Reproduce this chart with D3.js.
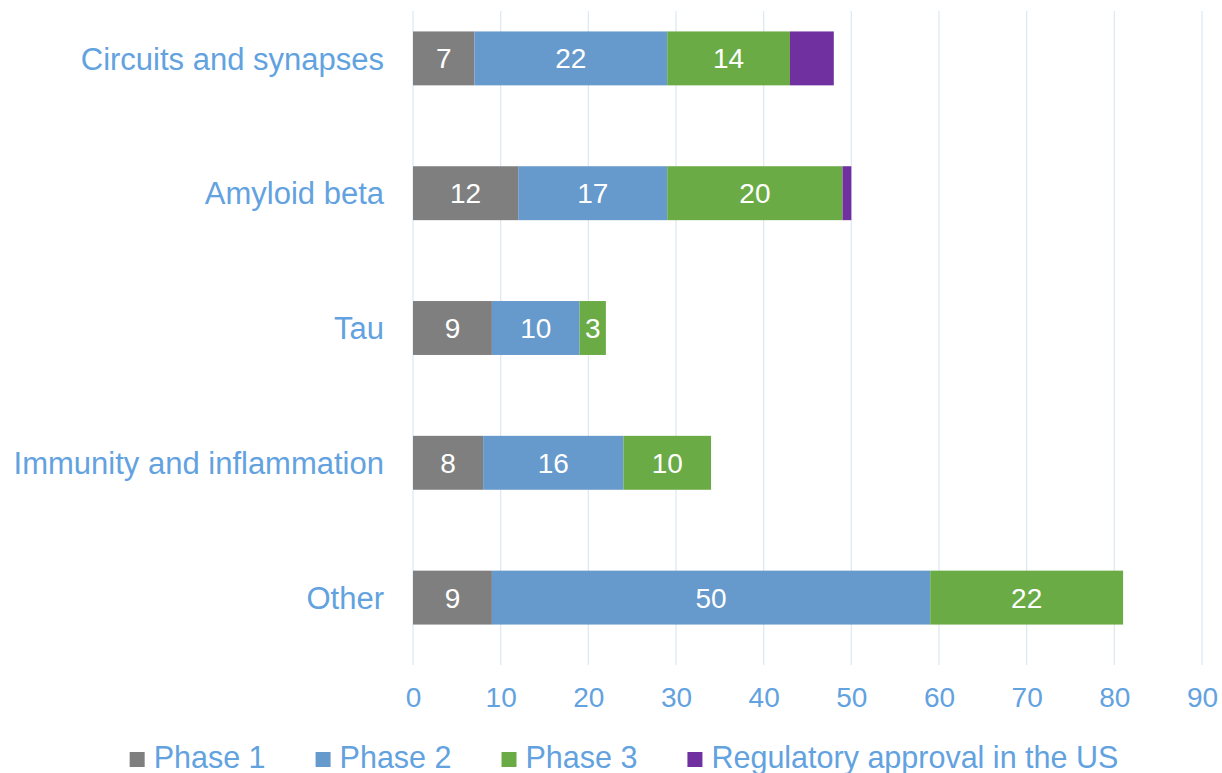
<!DOCTYPE html>
<meta charset="utf-8">
<head>
  <meta charset="utf-8">
  <title>Pipeline by target</title>
  <style>
    body { margin: 0; background: #fff; }
    text { font-family: "Liberation Sans", Arial, sans-serif; }
  </style>
</head>
<body>
<script src="https://cdn.jsdelivr.net/npm/d3@7/dist/d3.min.js"></script>
<script>

// data
var categories = ["Circuits and synapses", "Amyloid beta", "Tau", "Immunity and inflammation", "Other"];
var phase1   = [7, 12, 9, 8, 9];
var phase2   = [22, 17, 10, 16, 50];
var phase3   = [14, 20, 3, 10, 22];
var approval = [5, 1, 0, 0, 0];
var seriesNames = ["Phase 1", "Phase 2", "Phase 3", "Regulatory approval in the US"];
var xTicks = [0, 10, 20, 30, 40, 50, 60, 70, 80, 90];

var colors = ["#7f7f7f", "#6699cc", "#6aab45", "#7030a0"];
var textColor = "#62a2df";

var width = 1222, height = 773;
var plot = {left: 413, right: 1202, top: 11, bottom: 665};

var svg = d3.select("body").append("svg")
    .attr("width", width)
    .attr("height", height);

// build rows for the stack
var keys = ["p1", "p2", "p3", "ap"];
var rows = categories.map(function(c, i) {
  return {cat: c, p1: phase1[i], p2: phase2[i], p3: phase3[i], ap: approval[i]};
});
var stacked = d3.stack().keys(keys)(rows);

var x = d3.scaleLinear()
    .domain([0, 90])
    .range([plot.left, plot.right]);

var y = d3.scaleBand()
    .domain(categories)
    .range([plot.top - 20, plot.bottom])
    .paddingInner(0.6)
    .paddingOuter(0.3);

// gridlines
svg.append("g")
  .selectAll("line")
  .data(xTicks)
  .enter().append("line")
    .attr("x1", function(d) { return x(d); })
    .attr("x2", function(d) { return x(d); })
    .attr("y1", plot.top)
    .attr("y2", plot.bottom)
    .attr("stroke", "#dfe9f5")
    .attr("stroke-width", 1.3);

// bars
var layer = svg.append("g").selectAll("g")
    .data(stacked)
    .enter().append("g")
    .attr("fill", function(d, i) { return colors[i]; });

layer.selectAll("rect")
    .data(function(d) { return d; })
    .enter().append("rect")
    .attr("x", function(d) { return x(d[0]); })
    .attr("width", function(d) { return x(d[1]) - x(d[0]); })
    .attr("y", function(d) { return y(d.data.cat); })
    .attr("height", y.bandwidth());

// value labels (not on the approval segment)
layer.filter(function(d, i) { return i < 3; })
  .selectAll("text")
    .data(function(d) { return d.filter(function(s) { return s[1] - s[0] > 0; }); })
    .enter().append("text")
    .attr("x", function(d) { return (x(d[0]) + x(d[1])) / 2; })
    .attr("y", function(d) { return y(d.data.cat) + y.bandwidth() / 2; })
    .attr("dy", "0.36em")
    .attr("text-anchor", "middle")
    .attr("fill", "#fff")
    .style("font-size", "28px")
    .text(function(d) { return d[1] - d[0]; });

// category labels
svg.append("g")
  .selectAll("text")
  .data(categories)
  .enter().append("text")
    .attr("x", 384)
    .attr("y", function(d) { return y(d) + y.bandwidth() / 2; })
    .attr("dy", "0.36em")
    .attr("text-anchor", "end")
    .attr("fill", textColor)
    .style("font-size", "31px")
    .text(function(d) { return d; });

// x axis labels
var xAxis = svg.append("g")
    .attr("transform", "translate(0," + 687 + ")")
    .call(d3.axisBottom(x).tickValues(xTicks).tickSize(0).tickPadding(0));
xAxis.select(".domain").remove();
xAxis.selectAll("text")
    .attr("fill", textColor)
    .attr("dy", "0.71em")
    .style("font-size", "28px")
    .style("font-family", "'Liberation Sans', Arial, sans-serif");

// legend
var legend = svg.append("g");
var cursor = 0;
seriesNames.forEach(function(name, i) {
  var item = legend.append("g").attr("transform", "translate(" + cursor + ",0)");
  item.append("rect")
      .attr("x", 0).attr("y", -16)
      .attr("width", 15).attr("height", 15)
      .attr("fill", colors[i]);
  var t = item.append("text")
      .attr("x", 24).attr("y", 0)
      .attr("fill", textColor)
      .style("font-size", "30.5px")
      .text(name);
  cursor += 24 + t.node().getComputedTextLength() + 50;
});
var legendWidth = cursor - 50;
legend.attr("transform", "translate(" + (624 - legendWidth / 2) + ",768)");

</script>
</body>
